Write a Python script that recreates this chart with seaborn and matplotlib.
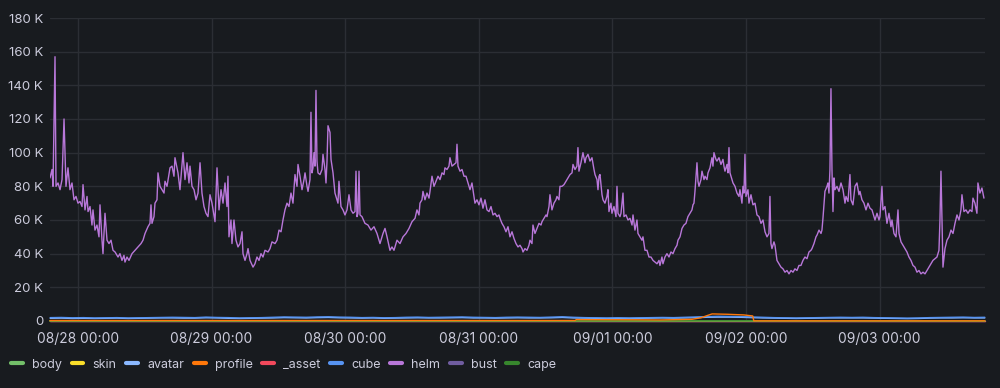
import matplotlib
matplotlib.use("Agg")
import numpy as np
import pandas as pd
import seaborn as sns
import matplotlib.pyplot as plt
import matplotlib.dates as mdates
from matplotlib.lines import Line2D
from matplotlib.ticker import FixedLocator, FuncFormatter

# ---------------- data ----------------
BASE = pd.Timestamp("2024-08-28 00:00")
X_START_H = -5.03
X_END_H = 162.93

series_order = ["body", "skin", "avatar", "profile", "_asset", "cube", "helm", "bust", "cape"]
series_colors = ["#73BF69", "#FADE2A", "#8AB8FF", "#FF780A", "#F2495C", "#5794F2", "#B877D9", "#705DA0", "#37872D"]

y_ticks = [0, 20000, 40000, 60000, 80000, 100000, 120000, 140000, 160000, 180000]
y_labels = ["0", "20 K", "40 K", "60 K", "80 K", "100 K", "120 K", "140 K", "160 K", "180 K"]

# helm: hours since 08/28 00:00, values in thousands
helm_hours = [
    -5.03, -4.67, -4.49, -4.13, -3.95, -3.59, -3.23, -2.87, -2.51, -2.16,
    -1.80, -1.44, -1.08, -0.72, -0.36, 0.00, 0.36, 0.72, 0.90, 1.26,
    1.62, 1.80, 2.16, 2.51, 2.69, 3.05, 3.41, 3.77, 3.95, 4.31,
    4.49, 4.85, 5.21, 5.57, 5.93, 6.29, 6.65, 7.19, 7.54, 7.90,
    8.26, 8.44, 8.80, 9.16, 9.70, 10.24, 10.78, 11.32, 11.68, 12.04,
    12.57, 12.93, 13.11, 13.29, 13.65, 13.83, 14.19, 14.37, 14.73, 15.09,
    15.45, 15.63, 15.99, 16.53, 16.89, 17.24, 17.42, 17.96, 18.32, 18.86,
    19.22, 19.58, 19.94, 20.12, 20.48, 20.84, 21.20, 21.56, 21.92, 22.27,
    22.63, 22.99, 23.35, 23.71, 24.07, 24.61, 24.97, 25.33, 25.69, 26.05,
    26.41, 26.76, 26.94, 27.12, 27.48, 27.66, 28.02, 28.38, 28.74, 29.10,
    29.46, 29.64, 30.00, 30.36, 30.54, 30.90, 31.44, 31.79, 32.15, 32.51,
    32.87, 33.23, 33.59, 34.13, 34.49, 34.85, 35.39, 35.75, 36.11, 36.47,
    36.82, 37.18, 37.54, 37.90, 38.26, 38.62, 38.98, 39.34, 39.52, 39.88,
    40.24, 40.60, 40.78, 41.14, 41.32, 41.67, 41.85, 42.03, 42.21, 42.39,
    42.57, 42.75, 42.93, 43.11, 43.47, 43.83, 44.01, 44.37, 44.55, 44.73,
    44.91, 45.27, 45.45, 45.81, 46.16, 46.52, 46.70, 46.88, 47.24, 47.60,
    47.96, 48.32, 48.68, 49.04, 49.40, 49.76, 49.94, 50.12, 50.30, 50.48,
    50.66, 51.01, 51.55, 52.09, 52.63, 53.17, 53.71, 54.25, 54.79, 55.15,
    55.51, 56.04, 56.40, 56.76, 57.30, 57.84, 58.38, 58.92, 59.46, 60.00,
    60.54, 60.89, 61.25, 61.43, 61.79, 61.97, 62.33, 62.69, 63.05, 63.23,
    63.59, 63.95, 64.31, 64.67, 65.03, 65.39, 65.74, 65.92, 66.28, 66.64,
    66.82, 67.18, 67.54, 67.90, 68.08, 68.26, 68.62, 68.98, 69.34, 69.70,
    70.06, 70.42, 70.77, 71.13, 71.31, 71.67, 72.03, 72.39, 72.75, 73.11,
    73.47, 73.83, 74.19, 74.55, 74.91, 75.27, 75.62, 75.80, 76.16, 76.52,
    76.88, 77.24, 77.60, 77.96, 78.32, 78.68, 79.04, 79.40, 79.76, 79.94,
    80.29, 80.65, 81.01, 81.19, 81.55, 81.73, 82.09, 82.45, 82.81, 83.17,
    83.35, 83.71, 84.07, 84.25, 84.61, 84.78, 85.14, 85.50, 85.86, 86.04,
    86.40, 86.58, 86.94, 87.30, 87.66, 88.02, 88.38, 88.74, 88.92, 89.28,
    89.63, 89.81, 89.99, 90.35, 90.71, 91.07, 91.25, 91.61, 91.97, 92.33,
    92.69, 92.87, 93.23, 93.41, 93.59, 93.77, 94.13, 94.31, 94.66, 95.02,
    95.20, 95.38, 95.74, 95.92, 96.28, 96.64, 96.82, 97.00, 97.36, 97.54,
    97.90, 98.08, 98.44, 98.80, 99.16, 99.52, 99.70, 100.05, 100.41, 100.59,
    100.95, 101.31, 101.49, 101.85, 102.21, 102.57, 102.93, 103.29, 103.65, 104.01,
    104.37, 104.54, 104.90, 105.08, 105.44, 105.80, 106.16, 106.52, 106.88, 107.24,
    107.60, 107.78, 108.14, 108.50, 108.85, 109.21, 109.57, 109.93, 110.29, 110.47,
    110.65, 110.83, 111.19, 111.37, 111.55, 111.91, 112.09, 112.45, 112.63, 112.99,
    113.17, 113.53, 113.88, 114.06, 114.24, 114.60, 114.78, 115.14, 115.50, 115.86,
    116.04, 116.22, 116.58, 116.76, 116.94, 117.12, 117.48, 117.66, 118.02, 118.38,
    118.74, 118.91, 119.27, 119.45, 119.63, 119.81, 119.99, 120.35, 120.53, 120.89,
    121.25, 121.61, 121.97, 122.33, 122.69, 123.05, 123.41, 123.77, 124.12, 124.30,
    124.48, 124.66, 125.02, 125.20, 125.56, 125.92, 126.28, 126.64, 127.00, 127.36,
    127.72, 128.08, 128.44, 128.79, 129.15, 129.51, 129.87, 130.23, 130.59, 130.95,
    131.31, 131.67, 131.85, 132.21, 132.57, 132.75, 133.11, 133.47, 133.64, 133.82,
    134.18, 134.54, 134.72, 134.90, 135.08, 135.26, 135.44, 135.62, 135.80, 135.98,
    136.34, 136.70, 137.06, 137.42, 137.78, 137.96, 138.32, 138.67, 138.85, 139.21,
    139.57, 139.93, 140.29, 140.47, 140.83, 141.19, 141.55, 141.91, 142.27, 142.63,
    142.99, 143.17, 143.53, 143.89, 144.06, 144.42, 144.60, 144.96, 145.32, 145.68,
    146.04, 146.22, 146.58, 146.94, 147.30, 147.48, 147.84, 148.19, 148.55, 148.91,
    149.27, 149.63, 149.99, 150.35, 150.71, 151.07, 151.43, 151.79, 152.15, 152.51,
    152.87, 153.23, 153.58, 153.94, 154.30, 154.66, 154.84, 155.02, 155.20, 155.38,
    155.74, 156.10, 156.46, 156.82, 157.18, 157.54, 157.90, 158.26, 158.61, 158.79,
    159.15, 159.51, 159.87, 160.23, 160.59, 160.77, 161.12, 161.48, 161.66, 162.02,
    162.38, 162.74,
]
helm_k = [
    85, 90, 80, 157, 80, 82, 78, 84, 120, 80,
    91, 78, 82, 72, 74, 70, 71, 68, 81, 66,
    74, 65, 68, 57, 66, 54, 57, 50, 69, 48,
    40, 64, 48, 46, 48, 42, 41, 38, 40, 36,
    39, 35, 38, 36, 40, 42, 44, 46, 48, 52,
    56, 58, 69, 58, 62, 70, 72, 88, 80, 78,
    76, 83, 80, 91, 92, 86, 97, 88, 78, 100,
    84, 94, 82, 92, 80, 78, 72, 76, 94, 76,
    68, 64, 62, 75, 70, 59, 91, 66, 78, 70,
    82, 68, 86, 50, 60, 46, 60, 48, 44, 46,
    53, 40, 36, 40, 43, 36, 32, 34, 38, 36,
    40, 38, 42, 41, 43, 47, 46, 48, 54, 53,
    60, 66, 70, 68, 76, 70, 87, 80, 93, 86,
    78, 84, 88, 80, 77, 84, 124, 88, 91, 100,
    92, 137, 95, 88, 87, 90, 99, 90, 82, 95,
    116, 112, 96, 88, 76, 72, 70, 83, 68, 66,
    63, 66, 75, 66, 64, 65, 89, 62, 64, 89,
    63, 62, 58, 57, 54, 56, 52, 46, 52, 55,
    50, 42, 44, 42, 48, 46, 50, 52, 55, 59,
    61, 66, 63, 70, 72, 77, 72, 76, 73, 77,
    86, 80, 83, 86, 84, 88, 87, 91, 90, 92,
    97, 92, 93, 94, 105, 92, 89, 90, 86, 86,
    82, 78, 82, 74, 70, 72, 69, 73, 67, 72,
    66, 65, 68, 63, 64, 62, 63, 61, 58, 56,
    53, 56, 50, 53, 49, 46, 44, 45, 43, 41,
    43, 42, 45, 48, 46, 57, 52, 55, 58, 57,
    59, 61, 63, 62, 68, 75, 66, 70, 72, 74,
    72, 80, 80, 81, 83, 85, 87, 88, 93, 90,
    92, 103, 89, 94, 100, 94, 97, 99, 95, 97,
    90, 87, 84, 78, 86, 87, 75, 72, 70, 74,
    78, 65, 70, 64, 68, 62, 80, 64, 62, 64,
    76, 62, 63, 60, 61, 57, 63, 54, 60, 52,
    50, 48, 50, 42, 42, 38, 38, 36, 35, 34,
    36, 33, 38, 34, 38, 40, 38, 41, 40, 43,
    45, 48, 50, 55, 57, 58, 62, 64, 66, 69,
    70, 77, 94, 83, 80, 84, 89, 84, 86, 84,
    88, 91, 97, 92, 100, 96, 95, 97, 93, 96,
    92, 89, 93, 88, 103, 88, 84, 82, 80, 76,
    74, 78, 70, 80, 76, 99, 74, 78, 70, 75,
    69, 70, 63, 62, 58, 60, 53, 50, 52, 74,
    46, 43, 47, 45, 36, 34, 32, 31, 29, 30,
    28, 30, 29, 31, 30, 33, 33, 36, 38, 37,
    41, 42, 43, 46, 50, 51, 54, 52, 54, 61,
    77, 80, 82, 76, 90, 138, 90, 65, 85, 78,
    80, 77, 82, 78, 70, 74, 71, 87, 72, 69,
    80, 82, 75, 77, 72, 70, 66, 70, 67, 66,
    62, 60, 64, 60, 62, 80, 66, 68, 58, 64,
    56, 60, 52, 50, 66, 52, 47, 45, 43, 41,
    38, 36, 33, 32, 29, 30, 28, 29, 28, 30,
    32, 34, 36, 37, 38, 42, 60, 89, 60, 32,
    43, 48, 50, 54, 52, 58, 63, 60, 66, 75,
    65, 66, 64, 66, 65, 73, 70, 64, 82, 76,
    79, 73,
]

# cube and avatar: every 2 hours from -5 h
small_hours = list(np.arange(-5.0, 163.0, 2.0)) + [162.9]
cube_k = [
    2.0, 2.1, 1.9, 2.0, 1.8, 1.9, 2.0, 1.8, 1.9, 2.0, 2.1, 2.2,
    2.1, 2.0, 2.3, 2.1, 2.0, 1.8, 1.9, 2.0, 2.2, 2.4, 2.3, 2.2,
    2.4, 2.5, 2.3, 2.2, 2.0, 2.1, 1.9, 2.0, 2.2, 2.3, 2.1, 2.2,
    2.3, 2.4, 2.2, 2.1, 2.0, 2.2, 2.3, 2.2, 2.1, 2.3, 2.5, 2.2,
    2.0, 1.9, 1.8, 1.9, 1.8, 1.9, 2.0, 2.1, 2.0, 2.2, 2.4, 2.6,
    2.8, 2.7, 2.6, 2.4, 2.2, 2.0, 1.9, 1.8, 1.9, 2.0, 2.1, 2.2,
    2.1, 2.2, 2.0, 1.9, 1.8, 1.7, 1.8, 2.0, 2.1, 2.2, 2.3, 2.1,
    2.2,
]
avatar_k = [
    1.6, 1.7, 1.5, 1.6, 1.5, 1.6, 1.7, 1.5, 1.6, 1.7, 1.8, 1.8,
    1.7, 1.7, 1.9, 1.8, 1.6, 1.5, 1.6, 1.7, 1.8, 2.0, 1.9, 1.8,
    2.0, 2.1, 1.9, 1.8, 1.7, 1.8, 1.6, 1.7, 1.8, 1.9, 1.8, 1.8,
    1.9, 2.0, 1.8, 1.8, 1.7, 1.8, 1.9, 1.8, 1.8, 1.9, 2.1, 1.8,
    1.7, 1.6, 1.5, 1.6, 1.5, 1.6, 1.7, 1.8, 1.7, 1.8, 2.0, 2.2,
    2.3, 2.3, 2.2, 2.0, 1.8, 1.7, 1.6, 1.5, 1.6, 1.7, 1.8, 1.8,
    1.8, 1.8, 1.7, 1.6, 1.5, 1.4, 1.5, 1.7, 1.8, 1.8, 1.9, 1.8,
    1.8,
]

profile_hours = [-5.03, 89.3, 89.5, 100.0, 104.5, 110.3, 111.9, 113.0, 113.9, 116.6, 119.6, 121.2, 121.4, 162.9]
profile_k = [0.3, 0.3, 0.8, 0.7, 0.6, 1.0, 1.9, 3.2, 4.2, 4.0, 3.6, 3.0, 0.1, 0.1]

flat_hours = [-5.03, 19.0, 43.0, 67.0, 91.0, 115.0, 139.0, 162.9]
body_k = [0.05, 0.05, 0.06, 0.05, 0.05, 0.06, 0.05, 0.05]
skin_k = [0.04, 0.04, 0.05, 0.04, 0.04, 0.05, 0.04, 0.04]
asset_k = [0.03, 0.03, 0.03, 0.03, 0.03, 0.03, 0.03, 0.03]
bust_k = [0.02, 0.02, 0.02, 0.02, 0.02, 0.02, 0.02, 0.02]
cape_k = [0.08, 0.08, 0.09, 0.08, 0.08, 0.09, 0.08, 0.08]

# ---------------- styling ----------------
BG = "#181B1F"
TXT = "#CCCCDC"
GRID = "#2B2E34"

sns.set_theme(style="dark")
plt.rcParams["font.family"] = ["Inter", "DejaVu Sans"]

fig = plt.figure(figsize=(10, 3.88), dpi=100, facecolor=BG)
ax = fig.add_axes([0.05, 0.1727, 0.935, 0.7809])
ax.set_facecolor(BG)


def to_time(hours):
    return BASE + pd.to_timedelta(np.asarray(hours, dtype=float), unit="h")


def draw(hours, vals_k, name, z, clip=True):
    color = series_colors[series_order.index(name)]
    df = pd.DataFrame({"time": to_time(hours), "value": np.asarray(vals_k) * 1000.0})
    sns.lineplot(data=df, x="time", y="value", ax=ax, color=color, lw=1.0,
                 estimator=None, sort=False, legend=False, zorder=z)
    ax.lines[-1].set_clip_on(clip)


draw(flat_hours, bust_k, "bust", 2, False)
draw(flat_hours, asset_k, "_asset", 2, False)
draw(flat_hours, skin_k, "skin", 2, False)
draw(flat_hours, body_k, "body", 2, False)
draw(flat_hours, cape_k, "cape", 3, False)
draw(small_hours, avatar_k, "avatar", 4, False)
draw(small_hours, cube_k, "cube", 5, False)
draw(profile_hours, profile_k, "profile", 6, False)
draw(helm_hours, helm_k, "helm", 7)

ax.set_xlim(to_time([X_START_H])[0], to_time([X_END_H])[0])
ax.set_ylim(0, 180000)
ax.yaxis.set_major_locator(FixedLocator(y_ticks))
ax.yaxis.set_major_formatter(FuncFormatter(lambda v, p: y_labels[y_ticks.index(int(round(v)))] if int(round(v)) in y_ticks else ""))
ax.xaxis.set_major_locator(mdates.DayLocator())
ax.xaxis.set_major_formatter(mdates.DateFormatter("%m/%d %H:%M"))
ax.set_xlabel("")
ax.set_ylabel("")

ax.tick_params(axis="y", length=0, colors=TXT, labelsize=9.5, pad=5)
ax.tick_params(axis="x", length=0, colors=TXT, labelsize=9.9, pad=8)
ax.grid(True, color=GRID, lw=1.0)
for s in ax.spines.values():
    s.set_visible(False)

handles = [Line2D([0], [0], color=c, lw=3, solid_capstyle="round") for c in series_colors]
leg = fig.legend(handles, series_order, loc="center left", bbox_to_anchor=(0.011, 0.060),
                 ncol=9, frameon=False, fontsize=9, handlelength=0.95, handletextpad=0.75,
                 columnspacing=0.75, borderaxespad=0, borderpad=0)
for t in leg.get_texts():
    t.set_color(TXT)

fig.savefig("out.png", dpi=100, facecolor=BG)
